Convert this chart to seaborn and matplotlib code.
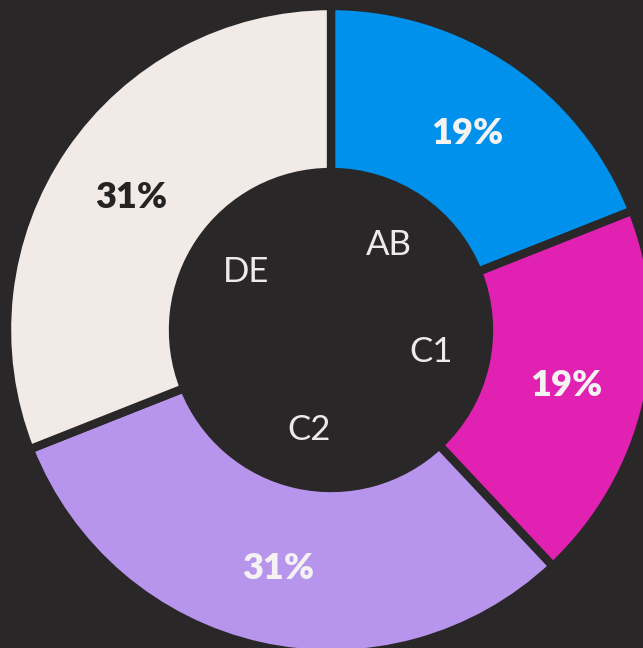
import numpy as np
import matplotlib.pyplot as plt
import seaborn as sns

# data
labels = ["AB", "C1", "C2", "DE"]
shares = [19, 19, 31, 31]
colors = ["#0091EC", "#E021B1", "#B895EC", "#F1EAE6"]
pct_colors = ["#F4F2F2", "#F4F2F2", "#F4F2F2", "#262324"]

bg = "#2A2729"

sns.set_style("dark")
plt.rcParams["font.family"] = ["Lato", "DejaVu Sans"]

fig = plt.figure(figsize=(6.43, 6.48), dpi=100, facecolor=bg)
ax = fig.add_axes([0, 0, 1, 1])
ax.set_facecolor(bg)

R = 320.0  # outer radius in px, used for scaling
cx, cy = 331, 318  # center in px from left / bottom

edge = 6
outer = 1.0 + 4 / R
inner = (162 - 4) / R
wedges, _ = ax.pie(shares, colors=colors, startangle=90, counterclock=False,
                   radius=outer,
                   wedgeprops=dict(width=outer - inner, edgecolor=bg, linewidth=edge))

# pie resets the limits, so set them afterwards
ax.set_xlim(-cx / R, (643 - cx) / R)
ax.set_ylim(-cy / R, (648 - cy) / R)
ax.set_aspect("equal")
ax.axis("off")

# labels
total = sum(shares)
start = 90.0
for lab, s, pc in zip(labels, shares, pct_colors):
    mid = np.deg2rad(start - s / total * 360 / 2)
    start -= s / total * 360
    r_pct = 0.755
    ax.text(r_pct * np.cos(mid), r_pct * np.sin(mid) - 0.01, f"{s}%", color=pc,
            fontsize=26, fontweight="heavy", ha="center", va="center")
    r_lab = 0.32
    ax.text(r_lab * np.cos(mid), r_lab * np.sin(mid), lab, color="#EDEAEA",
            fontsize=25, fontweight="normal", ha="center", va="center")

fig.savefig("out.png", dpi=100, facecolor=bg)
